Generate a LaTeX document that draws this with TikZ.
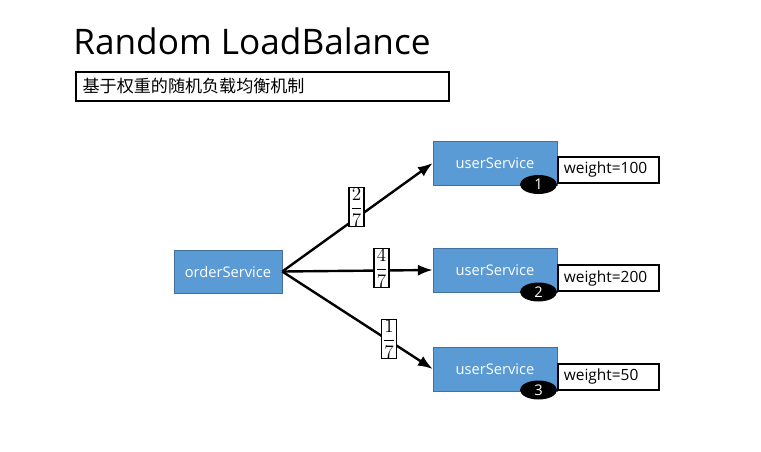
\documentclass[tikz,border=0pt]{standalone}
\usepackage{amsmath}
\usepackage{fontspec}
\setmainfont{Open Sans}
\newfontfamily\cjk{Noto Sans CJK SC}
\usetikzlibrary{arrows.meta, positioning, shapes.geometric}

\definecolor{svcblue}{HTML}{5B9BD5}
\definecolor{svcborder}{HTML}{41719C}

\begin{document}
\begin{tikzpicture}[
    x=0.75pt, y=-0.75pt,
    >=Latex,
    % Style definitions
    service/.style={draw=svcborder, fill=svcblue, text=white, minimum width=93pt, minimum height=33pt, font=\fontsize{11}{13}\selectfont},
    weightbox/.style={draw, line width=1.5pt, fill=white, minimum height=19.5pt, text width=67pt, inner xsep=4.5pt, inner ysep=0pt, align=left, font=\fontsize{11.6}{13}\selectfont},
    badge/.style={ellipse, fill=black, text=white, minimum width=27.75pt, minimum height=14.25pt, inner sep=0pt, font=\fontsize{11}{12}\selectfont},
    ratio/.style={draw, line width=1.1pt, fill=white, inner xsep=0.8pt, inner ysep=0.3pt, font=\fontsize{14.5}{16}\selectfont},
    arrow/.style={->, line width=1.8pt, black},
]
\useasboundingbox (0,0) rectangle (761,451);

%% ---------- TITLE ----------
\node[anchor=base west, inner sep=0pt, font=\fontsize{26.4}{30}\selectfont] (title) at (73,54) {Random LoadBalance};
\node[draw, line width=1.5pt, anchor=north west, minimum width=279.75pt, minimum height=21.75pt, text width=270pt, inner xsep=5pt, align=left, font=\cjk\fontsize{12.8}{14}\selectfont] (subtitle) at (75,71) {基于权重的随机负载均衡机制};

%% ---------- SERVICES ----------
\node[service, minimum width=81pt, minimum height=32.25pt] (order_service) at (228,271.5) {orderService};
\node[service] (user_one) at (495,163) {userService};
\node[service] (user_two) at (495,270) {userService};
\node[service] (user_three) at (495,369) {userService};

%% ---------- WEIGHTS ----------
\node[weightbox] (weight_one) at (608.5,169.5) {weight=100};
\node[weightbox] (weight_two) at (608.5,278) {weight=200};
\node[weightbox] (weight_three) at (608.5,376.5) {weight=50};

\node[badge] (badge_one) at (538.5,184.5) {1};
\node[badge] (badge_two) at (538.5,292) {2};
\node[badge] (badge_three) at (538.5,390) {3};

%% ========== ARROWS ==========
\draw[arrow] (order_service.east) -- (user_one.west);
\draw[arrow] (order_service.east) -- (user_two.west);
\draw[arrow] (order_service.east) -- (user_three.west);

% Probabilities
\node[ratio] (ratio_one) at (356.5,207) {$\dfrac{2}{7}$};
\node[ratio] (ratio_two) at (381.5,268) {$\dfrac{4}{7}$};
\node[ratio] (ratio_three) at (389,339) {$\dfrac{1}{7}$};

\end{tikzpicture}
\end{document}
